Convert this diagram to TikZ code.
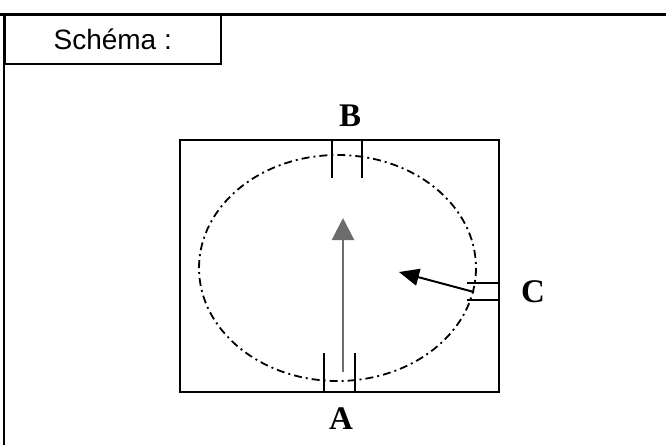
\documentclass[tikz,border=0pt]{standalone}
\usepackage{fontspec}
\setmainfont{Liberation Serif}
\setsansfont{Liberation Sans}
\usepackage{xcolor}
\usepackage{tikz}
\usetikzlibrary{positioning,arrows.meta}

\begin{document}
\begin{tikzpicture}[x=1pt, y=-1pt]
      \tikzstyle{titlebox} = [rectangle, draw, line width=1.5pt, anchor=north west, minimum width=216pt, minimum height=49pt, inner sep=0pt, font=\sffamily\fontsize{28}{28}\selectfont]
      \tikzstyle{portlbl} = [inner sep=0pt, font=\bfseries\fontsize{33}{33}\selectfont]
      \tikzstyle{wall} = [line width=2pt]
      \tikzstyle{orbit} = [line width=1.8pt, dash pattern=on 8pt off 4pt on 2pt off 4pt]
      \tikzstyle{flow} = [line width=2.2pt, draw=gray!85!black, -{Triangle[length=22pt, width=22pt, fill=gray!85!black]}]
      \tikzstyle{jet} = [line width=2pt, -{Triangle[length=20pt, width=17pt]}]
      \useasboundingbox (0,0) rectangle (666,445);
      % cadre
      \draw[line width=3pt] (0,14) -- (666,14);
      \draw[line width=1.6pt] (4,14) -- (4,445);
      \node[titlebox] (schema) at (4,14) {Sch\'ema :\hspace{6pt}};
      % cuve et trajectoire
      \node[draw, wall, rectangle, minimum width=319pt, minimum height=252pt, inner sep=0pt] (cuve) at (339.5,266) {};
      \draw[orbit] (337.5,268) ellipse (138.5 and 113);
      % orifices
      \draw[wall] (332,140) -- (332,178) (362,140) -- (362,178);
      \draw[wall] (324,353) -- (324,392) (355,353) -- (355,392);
      \draw[wall] (467,283) -- (499,283) (467,300) -- (499,300);
      \node[portlbl] (lblB) at (350,116) {B};
      \node[portlbl] (lblA) at (341,419) {A};
      \node[portlbl] (lblC) at (533,292) {C};
      \coordinate (portA) at (343,372);
      \coordinate (tipA) at (343,218);
      \coordinate (portC) at (474,292);
      \coordinate (tipC) at (399,272);
      \draw[flow] (portA) -- (tipA);
      \draw[jet] (portC) -- (tipC);
    \end{tikzpicture}
\end{document}
